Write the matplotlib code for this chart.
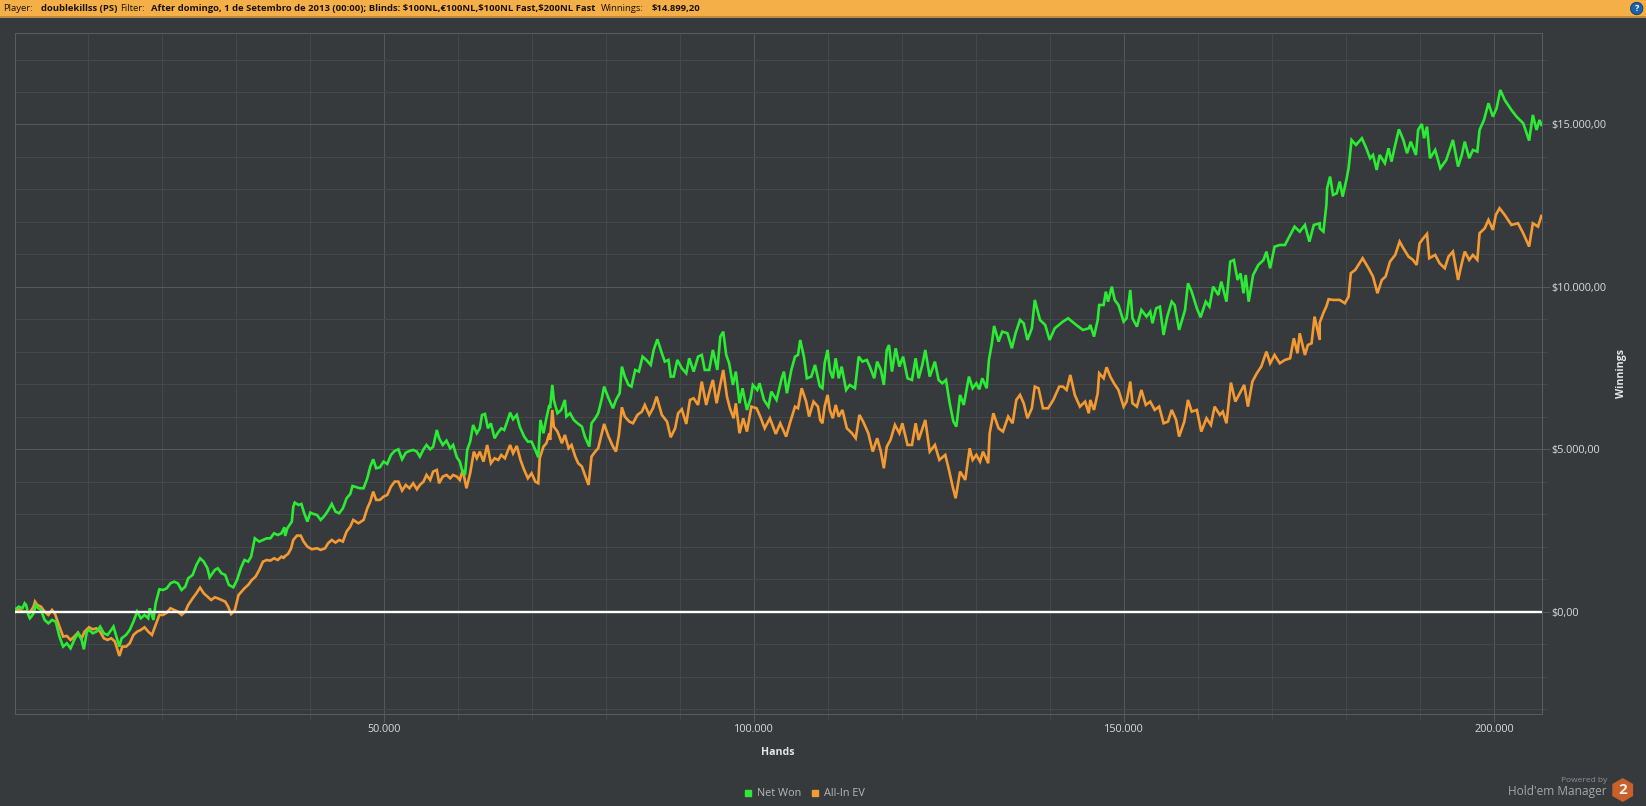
import numpy as np
import matplotlib
matplotlib.use("Agg")
import matplotlib.pyplot as plt
from matplotlib.lines import Line2D
from matplotlib.patches import Rectangle, RegularPolygon, Circle
from matplotlib.ticker import FuncFormatter, MultipleLocator

plt.rcParams['font.family'] = ['Open Sans', 'DejaVu Sans']

# Hands in thousands and winnings in dollars
net_hands_1 = [0.14,0.6,1.1,1.4,1.6,1.9,2.1,2.3,2.6,2.9,
 3.1,3.6,4.1,4.6,5.1,5.6,6.1,6.6,7.1,7.6,
 8.1,8.6,9.1,9.4,9.8,10.1,10.6,11.1,11.6,12.1,
 12.6,13.1,13.4,13.8,14.2,14.5,15.1,15.6,16.1,16.6,
 17.1,17.6,18.1,18.3,18.8,19.1,19.6,20.1,20.6,21.1,
 21.6,22.1,22.6,23.1,23.5,24.1,24.6,25.1,25.6,26.1,
 26.4,27.1,27.5,28.0,28.5,29.0,29.6,30.1,30.6,31.1,
 31.6,32.0,32.5,33.1,33.6,34.1,34.6,35.1,35.6,36.1,
 36.5]
net_won_1 = [74,156,105,259,207,-100,-203,-152,-49,207,
 135,53,-254,-357,-254,-306,-767,-1075,-973,-1127,
 -870,-665,-870,-1157,-614,-562,-665,-614,-460,-665,
 -716,-562,-460,-767,-1075,-819,-716,-562,-306,2,
 -203,-100,-203,105,-254,259,690,669,720,874,
 925,874,669,771,1028,1131,1439,1644,1541,1336,
 1059,1285,1336,1182,1131,823,751,977,1336,1592,
 1541,1695,2259,2157,2208,2259,2259,2413,2362,2413,
 2598]
net_hands_2 = [36.6,36.9,37.2,37.5,37.7,37.9,38.4,38.8,39.1,39.6,
 40.0,40.4,40.9,41.4,41.9,42.4,42.9,43.4,43.9,44.4,
 44.9,45.4,45.7,46.3,46.7,47.2,47.7,48.1,48.5,48.9,
 49.4,49.9,50.4,50.9,51.4,51.9,52.4,52.9,53.4,53.9,
 54.4,54.8,55.3,55.7,56.2,56.6,57.1,57.4,57.9,58.4,
 58.9,59.3,59.8,60.2,60.5,60.9,61.2,61.6,62.0,62.5,
 62.9,63.2,63.6,64.0,64.4,64.9,65.3,65.8,66.2,66.6,
 67.0,67.4,67.9,68.3,68.9,69.4,69.9,70.4,70.8,71.1,
 71.5,71.9,72.3]
net_won_2 = [2332,2569,2671,2774,3235,3359,3287,3317,3082,2774,
 3051,3010,2979,2825,2948,3112,3317,3082,3030,3184,
 3492,3625,3871,3830,3800,3800,4107,4467,4692,4415,
 4446,4620,4549,4826,4949,5000,4692,4897,4949,4980,
 4928,4774,5000,5133,5000,5082,5595,5339,5133,5267,
 5031,5133,4754,4620,4364,4210,4980,5236,5749,5493,
 5646,6057,6088,5646,5800,5339,5493,5646,5595,5852,
 6129,5924,6057,5698,5390,5236,5236,4980,4754,5903,
 5493,5954,6365]
net_hands_3 = [72.4,72.7,72.9,73.4,73.9,74.4,74.6,75.1,75.6,76.1,
 76.7,77.1,77.7,78.0,78.5,78.9,79.4,79.7,80.3,80.9,
 81.3,81.8,82.1,82.5,83.0,83.4,83.9,84.4,84.9,85.4,
 86.0,86.4,86.9,87.5,87.9,88.4,88.7,89.1,89.6,90.2,
 90.8,91.2,91.8,92.4,92.9,93.3,93.9,94.4,95.0,95.4,
 95.8,96.2,96.6,97.1,97.5,98.0,98.4,99.0,99.5,99.8,
 100.4,100.7,101.3,101.9,102.3,103.0,103.7,104.0,104.4,105.0,
 105.5,105.9,106.2,106.7,107.1,107.7,108.2,108.8]
net_won_3 = [6263,6981,6520,6109,6212,6520,6007,6109,5904,5801,
 5699,5391,5083,5801,5955,6109,6571,6930,6571,6263,
 6520,6725,7546,7238,6981,6930,7443,7392,7853,7751,
 7597,8059,8387,7957,7700,7751,7238,7238,7751,7494,
 7340,7802,7392,7853,7905,7443,7443,8059,7443,8469,
 8623,7905,7648,6981,7392,6417,6879,6212,6571,6981,
 6827,7033,6520,6314,6776,6520,7186,7392,6725,7443,
 7853,7905,8366,7853,7186,7238,7597,6981]
net_hands_4 = [108.9,109.2,109.5,109.9,110.2,110.6,111.0,111.4,111.8,112.4,
 112.9,113.6,114.1,114.6,115.2,115.6,116.2,116.6,117.1,117.5,
 117.9,118.2,118.6,119.1,119.6,120.1,120.7,121.3,121.8,122.2,
 122.7,123.1,123.7,124.4,124.9,125.4,125.9,126.4,126.9,127.3,
 127.8,128.3,129.0,129.5,130.0,130.4,130.8,131.4,131.7,132.1,
 132.4,133.0,133.5,134.2,134.8,135.3,135.9,136.4,136.9,137.5,
 137.9,138.6,139.3,139.9,140.6,141.7,142.4,143.5,144.4,145.2]
net_won_4 = [6930,6879,7648,8059,7443,7186,7802,7186,7546,6827,
 6981,6879,7853,7700,7751,7546,7186,7700,7443,6981,
 8059,8212,7392,8110,7546,7853,7186,7135,7802,7186,
 7597,8059,7238,7700,7135,7033,7135,6417,5853,5699,
 6674,6366,7238,6879,7033,6848,7186,6879,7751,8264,
 8797,8315,8623,8572,8110,8572,8982,8880,8366,8725,
 9598,8982,8828,8366,8725,8931,9033,8828,8674,8725]
net_hands_5 = [145.4,145.9,146.4,146.6,147.2,147.5,147.8,148.3,148.7,149.2,
 149.9,150.3,150.8,151.1,151.7,152.3,153.0,153.5,153.8,154.3,
 154.8,155.3,155.8,156.4,156.8,157.4,158.2,158.6,159.1,159.8,
 160.3,161.0,161.5,162.0,162.7,163.1,163.8,164.3,164.8,165.3,
 165.7,166.1,166.4,166.8,167.4,168.1,168.8,169.2,169.7,170.3,
 171.0,171.7,172.4,173.0,173.7,174.4,175.0,175.6,176.4]
net_won_5 = [8828,8469,8982,9443,9443,9854,9546,10008,9597,9443,
 8930,9033,9905,9033,8777,9290,9084,9238,8879,9341,
 9392,8520,9084,9546,9443,8674,9290,10110,9854,9341,
 9064,9546,9392,10008,9751,10162,9546,10777,10829,10213,
 10418,9803,10367,9546,10367,10675,10829,11085,10572,11239,
 11290,11290,11598,11855,11701,11906,11393,11906,11957]
net_hands_6 = [176.4,176.9,177.3,177.4,177.8,178.2,178.7,179.1,179.5,180.0,
 180.3,180.7,181.3,182.1,182.7,183.2,183.6,184.1,184.5,185.2,
 185.7,186.1,186.6,187.1,187.7,188.2,188.7,189.4,189.7,190.2,
 190.5,190.9,191.3,192.0,192.7,193.5,194.4,195.1,195.6,196.0,
 196.6,197.1,197.7,198.0,198.6,199.2,199.8,200.3,200.8,201.4,
 202.3,203.0,203.9,204.7,205.2,205.7,206.1,206.35]
net_won_6 = [11805,11703,12523,13036,13396,12831,12883,13242,12780,13293,
 13652,14524,14370,14576,14268,13960,14062,13601,14062,13806,
 14268,13857,14370,14852,14524,14114,14473,14062,14832,15017,
 14576,14935,13960,14216,13652,13909,14524,13703,14062,14473,
 13960,14216,14165,14832,15140,15653,15242,15499,16063,15755,
 15448,15242,15037,14504,15294,14832,15140,14986]

ev_hands_1 = [0.14,.6,1.1,1.6,2.1,2.6,2.8,3.1,3.6,4.1,
 4.6,5.1,5.5,6.1,6.6,7.1,7.6,8.1,8.6,9.1,
 9.5,10.1,10.6,11.1,11.6,12.1,12.6,13.1,13.6,14.2,
 14.6,15.1,15.6,16.1,16.6,17.1,17.6,18.1,18.6,19.1,
 19.6,20.1,20.6,21.1,21.6,22.1,22.6,23.1,23.5,24.1,
 24.6,25.1,25.6,26.1,26.6,27.1,27.5,28.0,28.5,28.9,
 29.3,29.8,30.3,31.1,31.6,32.1,32.6,33.1,33.6,34.1,
 34.6,35.1,35.6,36.1,36.5]
all_in_1 = [53,74,2,2,-29,156,310,207,156,2,
 -100,53,-70,-460,-767,-747,-870,-767,-644,-819,
 -614,-480,-542,-511,-614,-819,-870,-819,-921,-1362,
 -1075,-1075,-973,-716,-614,-562,-480,-614,-716,-408,
 -100,-100,-29,105,53,2,-100,2,207,412,
 566,741,566,464,361,443,412,361,310,156,
 -70,53,515,720,823,977,1079,1285,1541,1592,
 1572,1644,1592,1695,1644]
ev_hands_2 = [36.4,37.0,37.4,37.7,38.2,38.7,39.1,39.6,40.2,40.9,
 41.4,42.0,42.4,42.9,43.4,43.9,44.4,44.9,45.4,45.8,
 46.5,47.2,47.7,48.1,48.5,48.9,49.4,49.9,50.4,50.9,
 51.4,51.9,52.4,52.9,53.4,53.9,54.4,54.8,55.3,55.7,
 56.2,56.6,57.1,57.4,57.9,58.4,58.9,59.3,59.8,60.2,
 60.6,61.1,61.6,62.1,62.5,62.9,63.4,63.9,64.4,64.9,
 65.4,65.8,66.3,67.0,67.4,67.9,68.4,68.9,69.4,69.9,
 70.4,70.8,71.0,71.5,71.9,72.3]
all_in_2 = [1680,1780,1950,2209,2343,2343,2158,2004,1922,1953,
 1902,1953,2107,2209,2127,2209,2158,2466,2620,2825,
 2722,2825,3184,3389,3697,3441,3441,3543,3595,3851,
 4005,4005,3728,3902,3800,3954,3769,3902,4005,4210,
 4056,4313,4364,3954,4159,4210,4107,4210,4159,4056,
 4364,3800,4261,4928,4723,4928,4620,5133,4569,4723,
 4672,4826,4723,5133,4877,5103,4672,4364,4107,4261,
 4005,3954,4723,5082,5185,5493]
ev_hands_3 = [72.4,72.7,72.9,73.4,74.0,74.4,74.9,75.3,75.8,76.2,
 76.7,77.1,77.6,78.0,78.5,78.9,79.4,79.7,80.3,80.9,
 81.3,81.7,82.1,82.5,83.1,83.6,84.2,84.8,85.2,85.8,
 86.3,86.8,87.5,88.2,88.7,89.3,89.7,90.2,90.8,91.3,
 91.8,92.4,92.9,93.5,94.0,94.4,94.9,95.4,95.8,96.3,
 96.7,97.2,97.5,98.0,98.5,99.0,99.6,100.3,100.8,101.4,
 102.1,102.9,103.5,104.3,104.8,105.5,105.9,106.4,107.0,107.4,
 108.0,108.6]
all_in_3 = [5288,6212,5699,5545,5186,5442,5032,5134,4775,4570,
 4468,4211,3903,4775,4929,5032,5494,5781,5391,5083,
 4929,5442,6294,6007,5853,5801,6058,6160,6366,6058,
 6263,6622,6058,5853,5370,5648,6109,6232,5781,6520,
 6571,6366,7084,6366,6827,7135,6417,6981,7443,6622,
 6263,5955,6417,5494,5955,5545,6314,6263,6007,5648,
 5955,5473,5801,5391,5801,6314,6263,6879,6468,6007,
 6468,6314]
ev_hands_4 = [108.9,109.2,109.5,109.9,110.2,110.6,111.0,111.4,111.9,112.5,
 113.2,113.7,114.2,114.7,115.4,116.0,116.6,117.1,117.5,117.9,
 118.4,119.0,119.6,120.0,120.7,121.3,121.8,122.2,123.1,123.7,
 124.4,125.0,125.8,126.3,126.8,127.2,127.8,128.5,129.1,129.5,
 130.0,130.5,130.9,131.6,131.8,132.3,133.0,133.6,134.3,134.9,
 135.4,135.9,136.4,136.9,137.5,137.9,138.4,139.0,139.7,140.4,
 141.2,141.7,142.2,142.7,143.3,144.0,144.7,145.2]
all_in_4 = [5904,5801,6314,6674,6212,5955,6366,6007,6212,5648,
 5494,5340,6058,5853,5494,4929,5340,4929,4416,5083,
 5288,5750,5494,5801,5134,5134,5801,5288,5904,4929,
 5134,4673,4827,4365,3852,3493,4314,4057,5032,4673,
 4827,4622,4929,4570,5494,6109,5648,5545,6007,5801,
 6520,6674,6417,5955,6263,6930,6879,6263,6263,6520,
 6930,6930,6827,7289,6674,6314,6468,6109]
ev_hands_5 = [145.4,145.9,146.4,146.6,147.2,147.6,148.1,148.6,149.2,149.9,
 150.3,150.8,151.1,151.7,152.3,152.9,153.5,154.1,154.7,155.3,
 155.9,156.4,157.0,157.4,158.1,158.6,159.1,159.8,160.4,161.1,
 161.7,162.2,162.9,163.3,163.8,164.4,165.0,165.6,166.2,166.7,
 167.3,167.9,168.5,169.2,169.7,170.3,171.0,171.7,172.4,172.9,
 173.4,173.7,174.4,174.8,175.3,175.7,176.4]
all_in_5 = [6519,6212,6725,7340,7186,7525,7238,7032,6827,6314,
 6468,7084,6417,6314,6827,6365,6468,6212,6314,5801,
 5852,6212,5904,5391,5852,6519,6160,6212,5545,5955,
 5750,6314,6058,6160,5801,7053,6468,6725,6981,6314,
 7084,7340,7545,8007,7648,7904,7648,7751,7802,8417,
 7956,8571,7904,8212,8263,9084,8366]
ev_hands_6 = [176.4,176.9,177.3,177.6,178.2,179.1,179.8,180.3,180.6,181.2,
 182.2,183.0,183.6,184.2,184.8,185.3,185.9,186.6,187.2,187.7,
 188.4,189.0,189.5,189.9,190.4,190.9,191.2,192.0,192.6,193.3,
 193.8,194.4,195.1,195.6,196.0,196.6,197.1,197.7,198.0,198.7,
 199.2,199.8,200.2,200.7,201.4,202.3,203.2,203.9,204.7,205.2,
 205.9,206.35]
all_in_6 = [8900,9200,9400,9620,9599,9599,9497,9702,10420,10523,
 10882,10574,10318,9805,10215,10318,10779,10984,11395,11190,
 10933,10831,10677,11344,11497,11631,10882,10984,10728,10574,
 10933,11087,10215,10728,11087,10831,10984,10831,11651,11805,
 12062,11754,12216,12421,12216,11908,11959,11651,11241,11959,
 11857,12185]

net_hands = np.concatenate([net_hands_1, net_hands_2, net_hands_3, net_hands_4, net_hands_5, net_hands_6]) * 1000
net_won = np.concatenate([net_won_1, net_won_2, net_won_3, net_won_4, net_won_5, net_won_6])
ev_hands = np.concatenate([ev_hands_1, ev_hands_2, ev_hands_3, ev_hands_4, ev_hands_5, ev_hands_6]) * 1000
all_in_ev = np.concatenate([all_in_1, all_in_2, all_in_3, all_in_4, all_in_5, all_in_6])

series_names = ['Net Won', 'All-In EV']
BG = '#373A3D'
GREEN = '#2BEB35'
ORANGE = '#F49A33'
W, H = 1646, 806
PX = 0.72  # points per pixel at 100 dpi

fig = plt.figure(figsize=(W / 100, H / 100), dpi=100, facecolor=BG)

# pixel-coordinate overlay for the application chrome
ov = fig.add_axes([0, 0, 1, 1], zorder=0)
ov.set_xlim(0, W)
ov.set_ylim(H, 0)
ov.axis('off')
ov.add_patch(Rectangle((0, 0), W, 16, fc='#F5AF48', ec='none'))
ov.add_patch(Rectangle((0, 16), W, 1.6, fc='#C08B40', ec='none'))
header = [(3.5, 'Player:', 'normal'), (41, 'doublekillss (PS)', 'bold'), (120, 'Filter:', 'normal'),
          (151, 'After domingo, 1 de Setembro de 2013 (00:00); Blinds: $100NL,€100NL,$100NL Fast,$200NL Fast', 'bold'),
          (601, 'Winnings:', 'normal'), (652, '$14.899,20', 'bold')]
for x, s, w in header:
    ov.text(x, 8.5, s, fontsize=6.8, fontweight=w, color='#1A1408', va='center', ha='left')
ov.add_patch(Circle((1636.7, 8.5), 6.2, fc='#1B62A8', ec='#0D3B66', lw=0.6))
ov.text(1636.7, 8.5, '?', fontsize=6.5, fontweight='bold', color='white', ha='center', va='center')
ov.text(1607, 780, 'Powered by', fontsize=6, color='#8E9195', ha='right', va='center')
ov.text(1607, 791, "Hold'em Manager", fontsize=8.6, color='#A3A6A9', ha='right', va='center')
ov.add_patch(RegularPolygon((1622.7, 790), 6, radius=12, orientation=0, fc='#C8602A', ec='none'))
ov.text(1622.7, 790, '2', fontsize=11, fontweight='bold', color='#EDEDED', ha='center', va='center')

L, R, T, B = 15.3, 1541.5, 33, 714
ax = fig.add_axes([L / W, 1 - B / H, (R - L) / W, (B - T) / H], zorder=2)
ax.set_facecolor(BG)
ax.plot(ev_hands, all_in_ev, color=ORANGE, lw=1.9, solid_joinstyle='miter', zorder=3)
ax.plot(net_hands, net_won, color=GREEN, lw=1.9, solid_joinstyle='miter', zorder=4)
ax.axhline(0, color='white', lw=1.7, zorder=5)
ax.set_xlim(135, 206370)
ax.set_ylim(-3150, 17817)

ax.xaxis.set_major_locator(MultipleLocator(50000))
ax.xaxis.set_minor_locator(MultipleLocator(10000))
ax.yaxis.set_major_locator(MultipleLocator(5000))
ax.yaxis.set_minor_locator(MultipleLocator(1000))
ax.yaxis.tick_right()
ax.xaxis.set_major_formatter(FuncFormatter(lambda v, p: f'{int(v):,}'.replace(',', '.')))
ax.yaxis.set_major_formatter(FuncFormatter(lambda v, p: '$' + f'{int(v):,}'.replace(',', '.') + ',00'))
ax.grid(True, which='major', color='#55585B', lw=1 * PX, zorder=1)
ax.grid(True, which='minor', color='#45484B', lw=1 * PX, zorder=1)
ax.set_axisbelow(True)
ax.tick_params(which='major', length=8 * PX, width=1 * PX, color='#55585B', labelcolor='#DADADA', labelsize=7.8)
ax.tick_params(which='minor', length=4.5 * PX, width=1 * PX, color='#45484B')
ax.tick_params(axis='x', which='major', pad=1.5)
ax.tick_params(axis='y', which='major', pad=1.5)
for s in ax.spines.values():
    s.set_color('#5A5D60')
    s.set_linewidth(1 * PX)

ax.set_xlabel('Hands', fontsize=7.6, fontweight='bold', color='#E6E6E6', va='center')
ax.xaxis.set_label_coords((778 - L) / (R - L), (B - 752.5) / (B - T))
ax.yaxis.set_label_position('right')
ax.set_ylabel('Winnings', fontsize=7.6, fontweight='bold', color='#E6E6E6', rotation=90, va='center', ha='center')
ax.yaxis.set_label_coords((1621 - L) / (R - L), (B - 373) / (B - T))

handles = [Line2D([], [], ls='none', marker='s', ms=6 * PX, color=GREEN),
           Line2D([], [], ls='none', marker='s', ms=6 * PX, color=ORANGE)]
leg = ax.legend(handles, series_names, ncol=2, loc='center',
                bbox_to_anchor=(804 / W, 1 - 794 / H), bbox_transform=fig.transFigure,
                frameon=False, fontsize=7.8, labelcolor='#B5B7B9',
                handlelength=0.9, handletextpad=0.35, columnspacing=0.9, borderpad=0)

fig.savefig('out.png', dpi=100, facecolor=BG)
